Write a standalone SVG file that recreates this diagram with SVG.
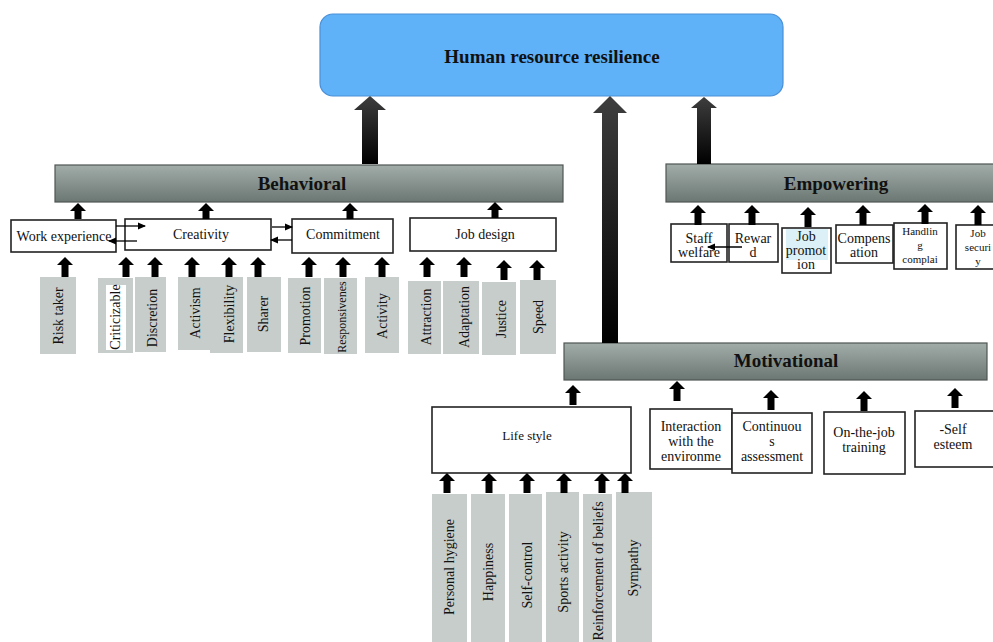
<svg xmlns="http://www.w3.org/2000/svg" xmlns:xlink="http://www.w3.org/1999/xlink" width="993" height="642" viewBox="0 0 993 642">
<defs>
<linearGradient id="bar" x1="0" y1="0" x2="0" y2="1">
<stop offset="0" stop-color="#a2ada9"/>
<stop offset="1" stop-color="#6b7773"/>
</linearGradient>
<linearGradient id="big" x1="0" y1="0" x2="0" y2="1">
<stop offset="0" stop-color="#3e3e3e"/>
<stop offset="1" stop-color="#000"/>
</linearGradient>
<path id="ua20" d="M0,0 L8,8 L3.5,8 L3.5,20 L-3.5,20 L-3.5,8 L-8,8 Z"/>
<path id="ua16" d="M0,0 L8,8 L3.5,8 L3.5,16 L-3.5,16 L-3.5,8 L-8,8 Z"/>
<marker id="ah" markerWidth="8" markerHeight="8" refX="7" refY="4" orient="auto" markerUnits="userSpaceOnUse">
<path d="M0,0.5 L8,4 L0,7.5 Z" fill="#000"/>
</marker>
<style>
.bar{fill:url(#bar);stroke:#4f5553;stroke-width:1.2}
.box{fill:#fff;stroke:#222;stroke-width:1.6}
.leaf{fill:#c6cdcb}
.h{font-family:"Liberation Serif",serif;font-weight:bold;font-size:19px;fill:#111;text-anchor:middle}
.t{font-family:"Liberation Serif",serif;font-size:14px;fill:#111;text-anchor:middle}
.m{font-family:"Liberation Serif",serif;font-size:13px;fill:#111;text-anchor:middle}
.s{font-family:"Liberation Serif",serif;font-size:12px;fill:#111;text-anchor:middle}
.xs{font-family:"Liberation Serif",serif;font-size:11px;fill:#111;text-anchor:middle}
.ua{fill:#000}
.thin{stroke:#000;stroke-width:1.3;fill:none;marker-end:url(#ah)}
</style>
</defs>
<rect width="993" height="642" fill="#fff"/>

<g id="hrr">
<rect x="320" y="14" width="463" height="82" rx="13" fill="#5fb2f8" stroke="#4a8fd6" stroke-width="1.2"/>
<text class="h" x="552" y="63">Human resource resilience</text>
</g>

<g id="behavioral">
<rect class="bar" x="55" y="165" width="508" height="37"/>
<text class="h" x="302" y="190">Behavioral</text>
</g>
<g id="empowering">
<rect class="bar" x="666" y="164" width="340" height="38"/>
<text class="h" x="836" y="190">Empowering</text>
</g>
<g id="motivational">
<rect class="bar" x="564" y="343" width="423" height="37"/>
<text class="h" x="786" y="367">Motivational</text>
</g>

<g id="work-experience"><rect class="box" x="11" y="220" width="105" height="32"/><text class="t" x="64" y="241">Work experience</text></g>
<g id="creativity"><rect class="box" x="125" y="219" width="146" height="31"/><text class="t" x="201" y="239">Creativity</text></g>
<g id="commitment"><rect class="box" x="292" y="219" width="101" height="34"/><text class="t" x="343" y="239">Commitment</text></g>
<g id="job-design"><rect class="box" x="410" y="218" width="146" height="33"/><text class="t" x="485" y="239">Job design</text></g>

<g id="risk-taker"><rect class="leaf" x="40" y="277" width="36" height="77"/><text class="t" transform="translate(63,316) rotate(-90)">Risk taker</text></g>
<g id="criticizable"><rect class="leaf" x="98" y="278" width="35" height="75"/><rect x="106" y="285" width="20" height="65" fill="#fff"/><text class="t" transform="translate(120,317) rotate(-90)">Criticizable</text></g>
<g id="discretion"><rect class="leaf" x="135" y="277" width="31" height="75"/><text class="t" transform="translate(157,318) rotate(-90)">Discretion</text></g>
<g id="activism"><rect class="leaf" x="178" y="277" width="35" height="73"/><text class="t" transform="translate(200,313) rotate(-90)">Activism</text></g>
<g id="flexibility"><rect class="leaf" x="210" y="277" width="33" height="76"/><text class="t" transform="translate(234,314) rotate(-90)">Flexibility</text></g>
<g id="sharer"><rect class="leaf" x="247" y="277" width="34" height="75"/><text class="t" transform="translate(268,314) rotate(-90)">Sharer</text></g>
<g id="promotion"><rect class="leaf" x="288" y="278" width="33" height="75"/><text class="t" transform="translate(310,316) rotate(-90)">Promotion</text></g>
<g id="responsivenes"><rect class="leaf" x="324" y="278" width="33" height="76"/><text class="s" transform="translate(346,317) rotate(-90)">Responsivenes</text></g>
<g id="activity"><rect class="leaf" x="365" y="277" width="34" height="76"/><text class="t" transform="translate(387,316) rotate(-90)">Activity</text></g>
<g id="attraction"><rect class="leaf" x="408" y="281" width="33" height="73"/><text class="t" transform="translate(431,317) rotate(-90)">Attraction</text></g>
<g id="adaptation"><rect class="leaf" x="443" y="281" width="36" height="73"/><text class="t" transform="translate(469,317) rotate(-90)">Adaptation</text></g>
<g id="justice"><rect class="leaf" x="482" y="282" width="34" height="73"/><text class="t" transform="translate(506,319) rotate(-90)">Justice</text></g>
<g id="speed"><rect class="leaf" x="520" y="280" width="36" height="74"/><text class="t" transform="translate(543,317) rotate(-90)">Speed</text></g>

<g id="staff-welfare"><rect class="box" x="671" y="224" width="56" height="38"/><text class="t" x="699" y="243">Staff</text><text class="t" x="699" y="257">welfare</text></g>
<g id="reward"><rect class="box" x="729" y="224" width="49" height="38"/><text class="t" x="753" y="243">Rewar</text><text class="t" x="753" y="257">d</text></g>
<g id="job-promotion"><rect class="box" x="782" y="228" width="49" height="45"/><rect x="786" y="229" width="42" height="31" fill="#dcf1f7"/><text class="t" x="806" y="241">Job</text><text class="t" x="806" y="255">promot</text><text class="t" x="806" y="269">ion</text></g>
<g id="compensation"><rect class="box" x="836" y="225" width="57" height="38"/><text class="t" x="864" y="243">Compens</text><text class="t" x="864" y="257">ation</text></g>
<g id="handling"><rect class="box" x="894" y="223" width="53" height="46"/><text class="xs" x="920" y="235">Handlin</text><text class="xs" x="920" y="249">g</text><text class="xs" x="920" y="263">complai</text></g>
<g id="job-security"><rect class="box" x="956" y="225" width="45" height="44"/><text class="xs" x="978" y="237">Job</text><text class="xs" x="978" y="251">securi</text><text class="xs" x="978" y="265">y</text></g>

<g id="life-style"><rect class="box" x="432" y="407" width="199" height="66"/><text class="m" x="527" y="440">Life style</text></g>
<g id="interaction"><rect class="box" x="650" y="409" width="82" height="60"/><text class="t" x="691" y="431">Interaction</text><text class="t" x="691" y="446">with the</text><text class="t" x="691" y="461">environme</text></g>
<g id="continuous"><rect class="box" x="732" y="413" width="80" height="60"/><text class="t" x="772" y="431">Continuou</text><text class="t" x="772" y="446">s</text><text class="t" x="772" y="461">assessment</text></g>
<g id="on-the-job"><rect class="box" x="824" y="412" width="81" height="62"/><text class="t" x="864" y="437">On-the-job</text><text class="t" x="864" y="452">training</text></g>
<g id="self-esteem"><rect class="box" x="915" y="411" width="85" height="56"/><text class="t" x="953" y="434">-Self</text><text class="t" x="953" y="449">esteem</text></g>

<g id="personal-hygiene"><rect class="leaf" x="432" y="494" width="35" height="148"/><text class="t" transform="translate(454,567) rotate(-90)">Personal hygiene</text></g>
<g id="happiness"><rect class="leaf" x="471" y="494" width="34" height="148"/><text class="t" transform="translate(493,572) rotate(-90)">Happiness</text></g>
<g id="self-control"><rect class="leaf" x="509" y="494" width="33" height="148"/><text class="t" transform="translate(532,575) rotate(-90)">Self-control</text></g>
<g id="sports-activity"><rect class="leaf" x="546" y="492" width="33" height="150"/><text class="t" transform="translate(568,572) rotate(-90)">Sports activity</text></g>
<g id="reinforcement"><rect class="leaf" x="583" y="494" width="29" height="148"/><text class="t" transform="translate(603,571) rotate(-90)">Reinforcement of beliefs</text></g>
<g id="sympathy"><rect class="leaf" x="616" y="492" width="36" height="150"/><text class="t" transform="translate(638,568) rotate(-90)">Sympathy</text></g>

<g id="connectors">
<path fill="url(#big)" d="M370,96 L386,110 L378,110 L378,164 L362,164 L362,110 L354,110 Z"/>
<path fill="url(#big)" d="M610,96 L627,113 L618,113 L618,343 L602,343 L602,113 L593,113 Z"/>
<path fill="url(#big)" d="M704,97 L717,108 L711,108 L711,164 L697,164 L697,108 L691,108 Z"/>
<g class="ua">
<use xlink:href="#ua16" x="78" y="203"/>
<use xlink:href="#ua16" x="206" y="203"/>
<use xlink:href="#ua16" x="350" y="203"/>
<use xlink:href="#ua16" x="495" y="202"/>
<use xlink:href="#ua20" x="65" y="257"/>
<use xlink:href="#ua20" x="126" y="257"/>
<use xlink:href="#ua20" x="155" y="257"/>
<use xlink:href="#ua20" x="192" y="257"/>
<use xlink:href="#ua20" x="229" y="257"/>
<use xlink:href="#ua20" x="258" y="257"/>
<use xlink:href="#ua20" x="309" y="257"/>
<use xlink:href="#ua20" x="343" y="257"/>
<use xlink:href="#ua20" x="382" y="257"/>
<use xlink:href="#ua20" x="427" y="257"/>
<use xlink:href="#ua20" x="464" y="257"/>
<use xlink:href="#ua20" x="504" y="260"/>
<use xlink:href="#ua20" x="537" y="260"/>
<use xlink:href="#ua20" x="698" y="205"/>
<use xlink:href="#ua20" x="752" y="205"/>
<use xlink:href="#ua20" x="808" y="207"/>
<use xlink:href="#ua20" x="863" y="205"/>
<use xlink:href="#ua20" x="925" y="204"/>
<use xlink:href="#ua20" x="978" y="205"/>
<use xlink:href="#ua20" x="573" y="385"/>
<use xlink:href="#ua20" x="677" y="381"/>
<use xlink:href="#ua20" x="771" y="390"/>
<use xlink:href="#ua20" x="864" y="391"/>
<use xlink:href="#ua20" x="955" y="388"/>
<use xlink:href="#ua20" x="447" y="473"/>
<use xlink:href="#ua20" x="489" y="473"/>
<use xlink:href="#ua20" x="527" y="473"/>
<use xlink:href="#ua20" x="564" y="473"/>
<use xlink:href="#ua20" x="602" y="473"/>
<use xlink:href="#ua20" x="625" y="473"/>
</g>
<line class="thin" x1="116" y1="226" x2="145" y2="226"/>
<line class="thin" x1="137" y1="241" x2="109" y2="241"/>
<line class="thin" x1="272" y1="227" x2="292" y2="227"/>
<line class="thin" x1="292" y1="240" x2="271" y2="240"/>
<line class="thin" x1="742" y1="247" x2="708" y2="247"/>
</g>
</svg>
